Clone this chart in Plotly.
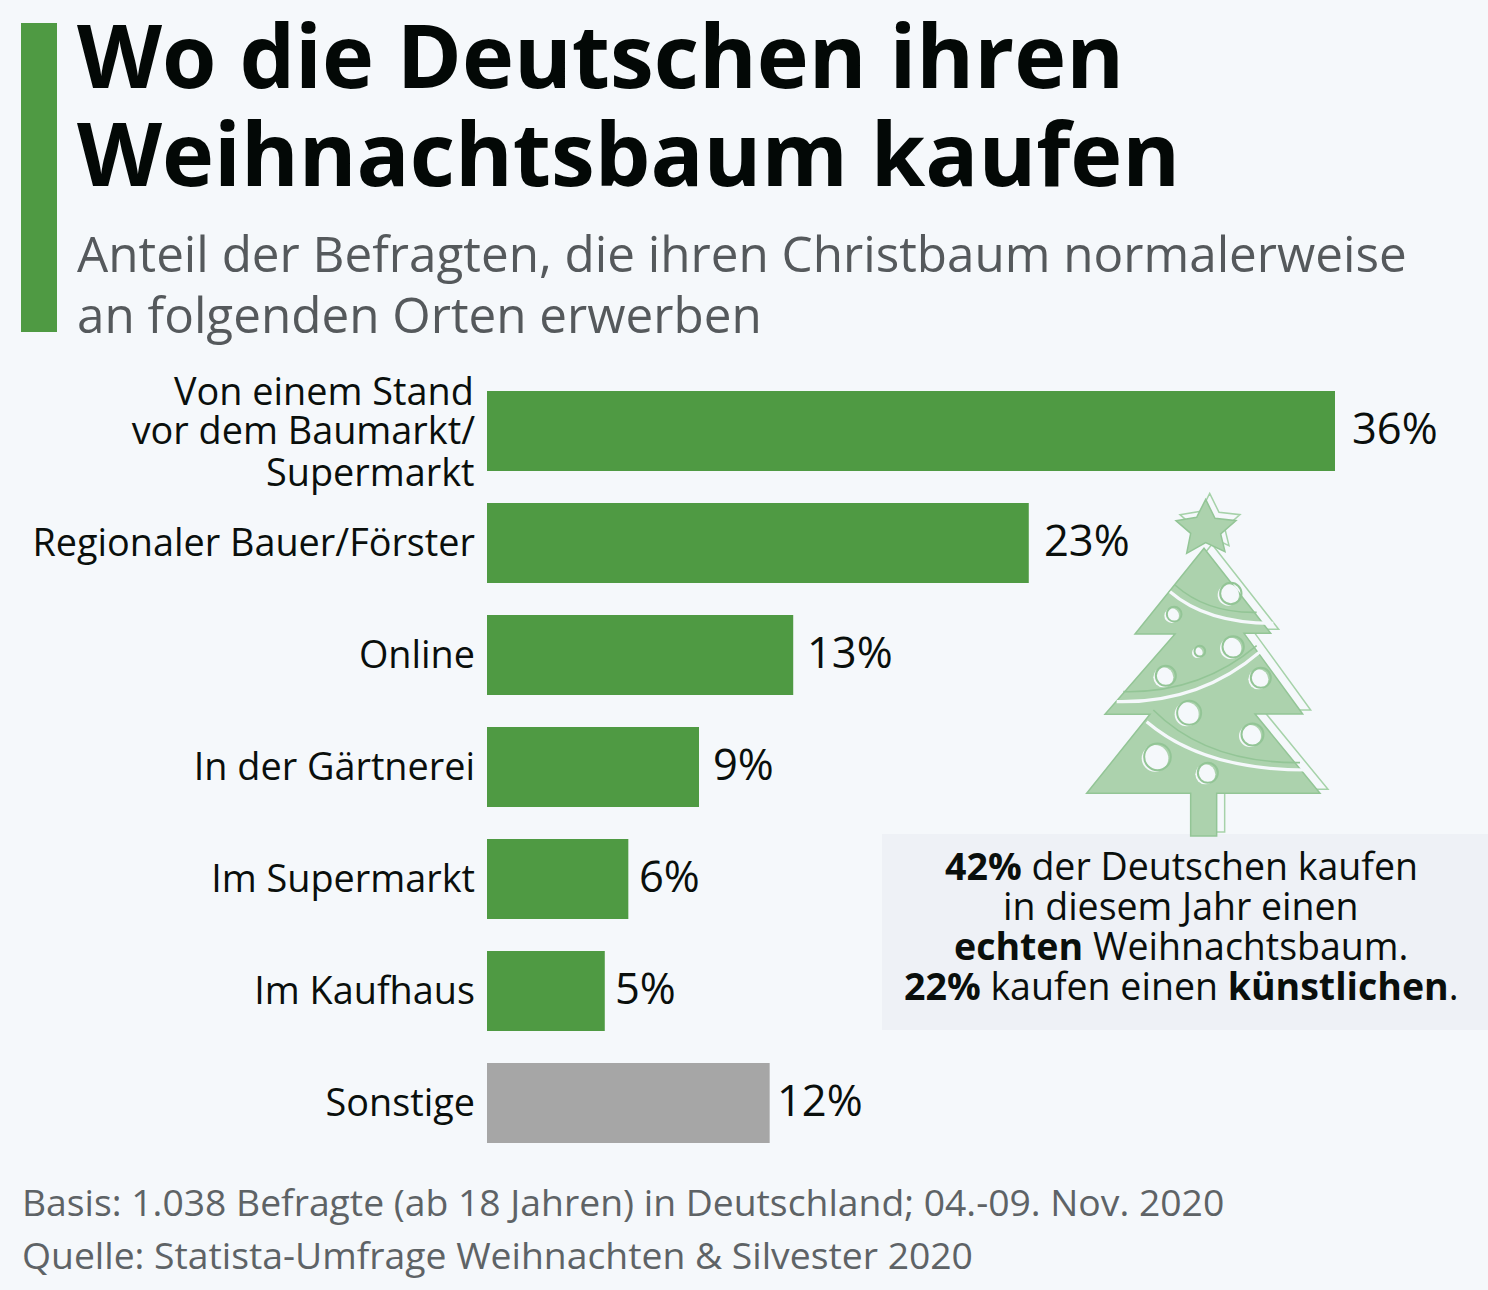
import plotly.graph_objects as go

W, H = 1488, 1290
categories = ["Von einem Stand vor dem Baumarkt/ Supermarkt", "Regionaler Bauer/Förster", "Online",
              "In der Gärtnerei", "Im Supermarkt", "Im Kaufhaus", "Sonstige"]
tick_labels = ["vor dem Baumarkt/", "Regionaler Bauer/Förster", "Online",
               "In der Gärtnerei", "Im Supermarkt", "Im Kaufhaus", "Sonstige"]
values = [36, 23, 13, 9, 6, 5, 12]
bar_colors = ["#4f9a43"] * 6 + ["#a6a6a6"]
label_shift = [15, 13, 12, 12, 9, 8, 5]

title_lines = ["Wo die Deutschen ihren", "Weihnachtsbaum kaufen"]
subtitle_lines = ["Anteil der Befragten, die ihren Christbaum normalerweise", "an folgenden Orten erwerben"]
box_lines = ["<b>42%</b> der Deutschen kaufen", "in diesem Jahr einen",
             "<b>echten</b> Weihnachtsbaum.", "<b>22%</b> kaufen einen <b>künstlichen</b>."]
footer_lines = ["Basis: 1.038 Befragte (ab 18 Jahren) in Deutschland; 04.-09. Nov. 2020",
                "Quelle: Statista-Umfrage Weihnachten &amp; Silvester 2020"]
FONT = "Open Sans"
BG = "#f5f8fb"
LABEL_SIZE = 37.8


def px(x):
    return x / W


def py(y):
    return 1 - y / H


def text(x, y, s, size, color="#0a0f0c", anchor="left", font=FONT):
    return dict(x=px(x), y=py(y), xref="paper", yref="paper", text=s, showarrow=False, xanchor=anchor,
                yanchor="middle", font=dict(family=font, size=size, color=color), align=anchor)


def path(points):
    return "M " + " L ".join(f"{px(x):.5f},{py(y):.5f}" for x, y in points) + " Z"


def curve(points):
    (a, b), (c, d), (e, f) = points
    return f"M {px(a):.5f},{py(b):.5f} Q {px(c):.5f},{py(d):.5f} {px(e):.5f},{py(f):.5f}"


def z(x, y, dx=0, dy=0):
    return (1060 + (x + dx) / 3, 480 + (y + dy) / 3)


tree = [(432, 205), (632, 460), (552, 460), (728, 702), (585, 702), (780, 940), (470, 940), (470, 1068),
        (392, 1068), (392, 940), (80, 940), (270, 703), (135, 703), (345, 462), (225, 462)]
star = [(437, 58), (465, 115), (528, 122), (482, 162), (495, 215), (437, 188), (380, 220), (392, 160),
        (348, 122), (410, 112)]
garlands_white = [[(330, 335), (440, 430), (640, 430)],
                  [(170, 665), (420, 670), (600, 515)],
                  [(260, 725), (430, 870), (740, 870)]]
garlands_dark = [[(345, 315), (440, 400), (590, 397)],
                 [(190, 635), (420, 640), (590, 497)],
                 [(280, 690), (440, 850), (720, 848)]]
balls = [(505, 345, 32), (335, 407, 22), (512, 505, 32), (412, 518, 16), (310, 592, 30), (380, 703, 36),
         (595, 598, 30), (570, 768, 33), (285, 835, 40), (436, 883, 30)]

shapes = [
    dict(type="rect", xref="paper", yref="paper", x0=px(21), x1=px(57), y0=py(332), y1=py(23),
         fillcolor="#4f9a43", line_width=0),
    dict(type="rect", xref="paper", yref="paper", x0=px(882), x1=px(1488), y0=py(1030), y1=py(834),
         fillcolor="#eef1f6", line_width=0, layer="below"),
]
common = dict(type="path", xref="paper", yref="paper")
shapes.append(dict(path=path([z(x, y, 24, -12) for x, y in tree]), fillcolor="rgba(0,0,0,0)",
                   line=dict(color="#a6d2a9", width=1.5), **common))
shapes.append(dict(path=path([z(x, y, 12, -18) for x, y in star]), fillcolor="rgba(0,0,0,0)",
                   line=dict(color="#a6d2a9", width=1.5), **common))
shapes.append(dict(path=path([z(x, y) for x, y in tree]), fillcolor="#acd2ad",
                   line=dict(color="#93c596", width=1.5), **common))
shapes.append(dict(path=path([z(x, y) for x, y in star]), fillcolor="#acd2ad",
                   line=dict(color="#93c596", width=1.5), **common))
for g, color, width in [(garlands_dark, "#93c596", 1.6), (garlands_white, BG, 3.2)]:
    for line in g:
        d = curve([z(x, y) for x, y in line])
        shapes.append(dict(path=d, fillcolor="rgba(0,0,0,0)", line=dict(color=color, width=width), **common))
for bx, by, r in balls:
    cx, cy = z(bx, by)
    rr = r / 3
    shapes.append(dict(type="circle", xref="paper", yref="paper", x0=px(cx - rr), x1=px(cx + rr),
                       y0=py(cy + rr), y1=py(cy - rr), fillcolor=BG, line_width=0))
    shapes.append(dict(type="circle", xref="paper", yref="paper", x0=px(cx - rr + 2.5), x1=px(cx + rr + 2.5),
                       y0=py(cy + rr - 1.5), y1=py(cy - rr - 1.5), fillcolor="rgba(0,0,0,0)",
                       line=dict(color="#93c596", width=2)))

annotations = []
for i, s in enumerate(title_lines):
    annotations.append(text(75, 54 + i * 98, f"<b>{s}</b>", 88, "#030806"))
for i, s in enumerate(subtitle_lines):
    annotations.append(text(75, 253 + i * 60, s, 49.4, "#55595c"))
for i, s in enumerate(box_lines):
    annotations.append(text(1181, 865 + i * 40, s, 37.5, "#0a0f0c", "center"))
for i, s in enumerate(footer_lines):
    annotations.append(text(20, 1201 + i * 53, s, 37.3, "#5e6366"))
annotations.append(text(476, 391, "Von einem Stand", LABEL_SIZE, "#0a0f0c", "right"))
annotations.append(text(476, 472, "Supermarkt", LABEL_SIZE, "#0a0f0c", "right"))
for c, v, s in zip(categories, values, label_shift):
    annotations.append(dict(x=v, y=c, xref="x", yref="y", text=f"{v}%", showarrow=False, xanchor="left",
                            yanchor="middle", xshift=s, yshift=4, font=dict(family=FONT, size=43.5, color="#0a0f0c")))

fig = go.Figure(go.Bar(x=values, y=categories, orientation="h", marker=dict(color=bar_colors, line_width=0),
                       hoverinfo="skip"))
fig.update_layout(
    width=W, height=H, autosize=False, paper_bgcolor=BG, plot_bgcolor="rgba(0,0,0,0)",
    margin=dict(l=0, r=0, t=0, b=0), bargap=32 / 112, showlegend=False,
    font=dict(family=FONT), shapes=shapes, annotations=annotations,
    xaxis=dict(domain=[px(487), px(1335)], range=[0, 36], visible=False, fixedrange=True),
    yaxis=dict(domain=[py(1159), py(375)], autorange="reversed", categoryorder="array", categoryarray=categories,
               tickmode="array", tickvals=categories, ticktext=tick_labels, showgrid=False, zeroline=False,
               showline=False, ticks="", ticklabelstandoff=11, tickfont=dict(family=FONT, size=LABEL_SIZE, color="#0a0f0c"),
               fixedrange=True, anchor="x"),
)
fig.write_html("out.html", config=dict(displayModeBar=False), post_script="document.body.style.margin='0';")
